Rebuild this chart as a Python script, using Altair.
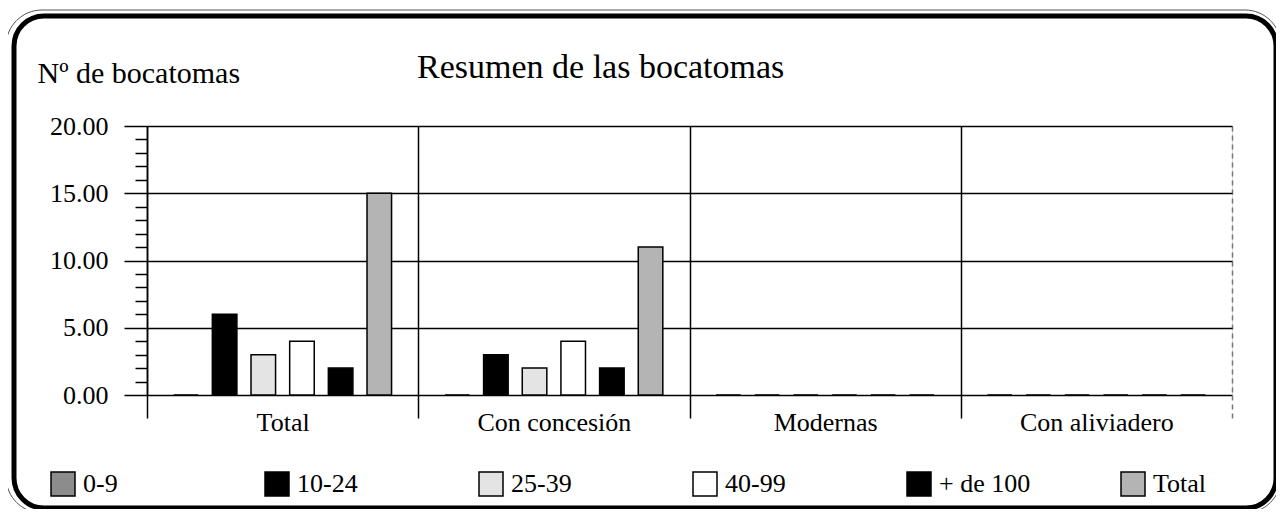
import altair as alt
import pandas as pd

categories = ["Total", "Con concesión", "Modernas", "Con aliviadero"]
series = ["0-9", "10-24", "25-39", "40-99", "+ de 100", "Total"]
v_0_9 = [0, 0, 0, 0]
v_10_24 = [6, 3, 0, 0]
v_25_39 = [3, 2, 0, 0]
v_40_99 = [4, 4, 0, 0]
v_100 = [2, 2, 0, 0]
v_total = [15, 11, 0, 0]
y_tick_values = list(range(0, 21))
colors = ["#8c8c8c", "#000000", "#e4e4e4", "#ffffff", "#000000", "#b4b4b4"]
chart_title = "Resumen de las bocatomas"

rows = []
for s, vals in zip(series, [v_0_9, v_10_24, v_25_39, v_40_99, v_100, v_total]):
    for c, v in zip(categories, vals):
        rows.append({"grupo": c, "rango": s, "valor": v})
df = pd.DataFrame(rows)

font = "Liberation Serif"
last_edge = "datum.value === 'Con aliviadero'"

bars = alt.Chart(df).mark_bar(stroke="black", strokeWidth=1.5).encode(
    x=alt.X(
        "grupo:N",
        sort=categories,
        scale=alt.Scale(paddingInner=0, paddingOuter=0),
        axis=alt.Axis(
            title=None,
            labelAngle=0,
            tickBand="extent",
            grid=True,
            gridColor={"condition": {"test": last_edge, "value": "#777777"}, "value": "black"},
            gridWidth=1.5,
            gridDash={"condition": {"test": last_edge, "value": [5, 4]}, "value": []},
            ticks=True,
            tickSize=23,
            tickColor={"condition": {"test": last_edge, "value": "#777777"}, "value": "black"},
            tickDash={"condition": {"test": last_edge, "value": [5, 4]}, "value": []},
            tickWidth=1.5,
            domain=False,
            labelFont=font,
            labelFontSize=26,
            labelColor="black",
            labelPadding=12,
            labelBaseline="alphabetic",
        ),
    ),
    xOffset=alt.XOffset("rango:N", sort=series,
                        scale=alt.Scale(paddingInner=0.365, paddingOuter=0.69)),
    y=alt.Y(
        "valor:Q",
        scale=alt.Scale(domain=[0, 20], nice=False),
        axis=alt.Axis(
            values=y_tick_values,
            title="Nº de bocatomas",
            titleAngle=0,
            titleX=-110,
            titleY=-44,
            titleAlign="left",
            titleBaseline="alphabetic",
            titleFont=font,
            titleFontSize=30,
            titleFontWeight="normal",
            titleColor="black",
            labelExpr="datum.value % 5 === 0 ? format(datum.value, '.2f') : ''",
            tickSize={"condition": {"test": "datum.value % 5 === 0", "value": 23}, "value": 12},
            gridOpacity={"condition": {"test": "datum.value % 5 === 0", "value": 1}, "value": 0},
            grid=True,
            gridColor="black",
            gridWidth=1.5,
            tickColor="black",
            tickWidth=1.5,
            domainColor="black",
            domainWidth=1.5,
            labelFont=font,
            labelFontSize=26,
            labelPadding=16,
            labelColor="black",
            labelOverlap=False,
        ),
    ),
    color=alt.Color(
        "rango:N",
        sort=series,
        scale=alt.Scale(domain=series, range=colors),
        legend=alt.Legend(
            title=None,
            orient="none",
            legendX=-97,
            legendY=345,
            direction="horizontal",
            columns=6,
            gridAlign="all",
            columnPadding=87,
            symbolType="square",
            symbolSize=576,
            symbolStrokeColor="black",
            symbolStrokeWidth=1.5,
            labelFont=font,
            labelFontSize=26,
            labelColor="black",
            labelOffset=7,
            padding=0,
        ),
    ),
)

title_mark = alt.Chart(alt.Data(values=[{"t": chart_title}])).mark_text(
    font=font, fontSize=34, color="black", align="left", baseline="alphabetic"
).encode(text="t:N", x=alt.value(270), y=alt.value(-48))

frame = alt.Chart(alt.Data(values=[{"k": 1}])).mark_rect(
    filled=False, stroke="black", strokeWidth=5, cornerRadius=30
).encode(
    x=alt.value(-133), x2=alt.value(1129), y=alt.value(-110), y2=alt.value(382)
)

outer_frame = alt.Chart(alt.Data(values=[{"k": 1}])).mark_rect(
    filled=False, stroke="#555555", strokeWidth=1, cornerRadius=36
).encode(
    x=alt.value(-141), x2=alt.value(1134), y=alt.value(-116), y2=alt.value(387)
)

chart = alt.layer(bars, title_mark, frame, outer_frame).properties(
    width=1085,
    height=269,
    padding={"left": 139, "top": 118, "right": 44, "bottom": 114},
    autosize=alt.AutoSizeParams(type="none"),
).configure_view(stroke=None).configure(background="white")

chart.save("out.html", embed_options={"renderer": "svg", "actions": False})
